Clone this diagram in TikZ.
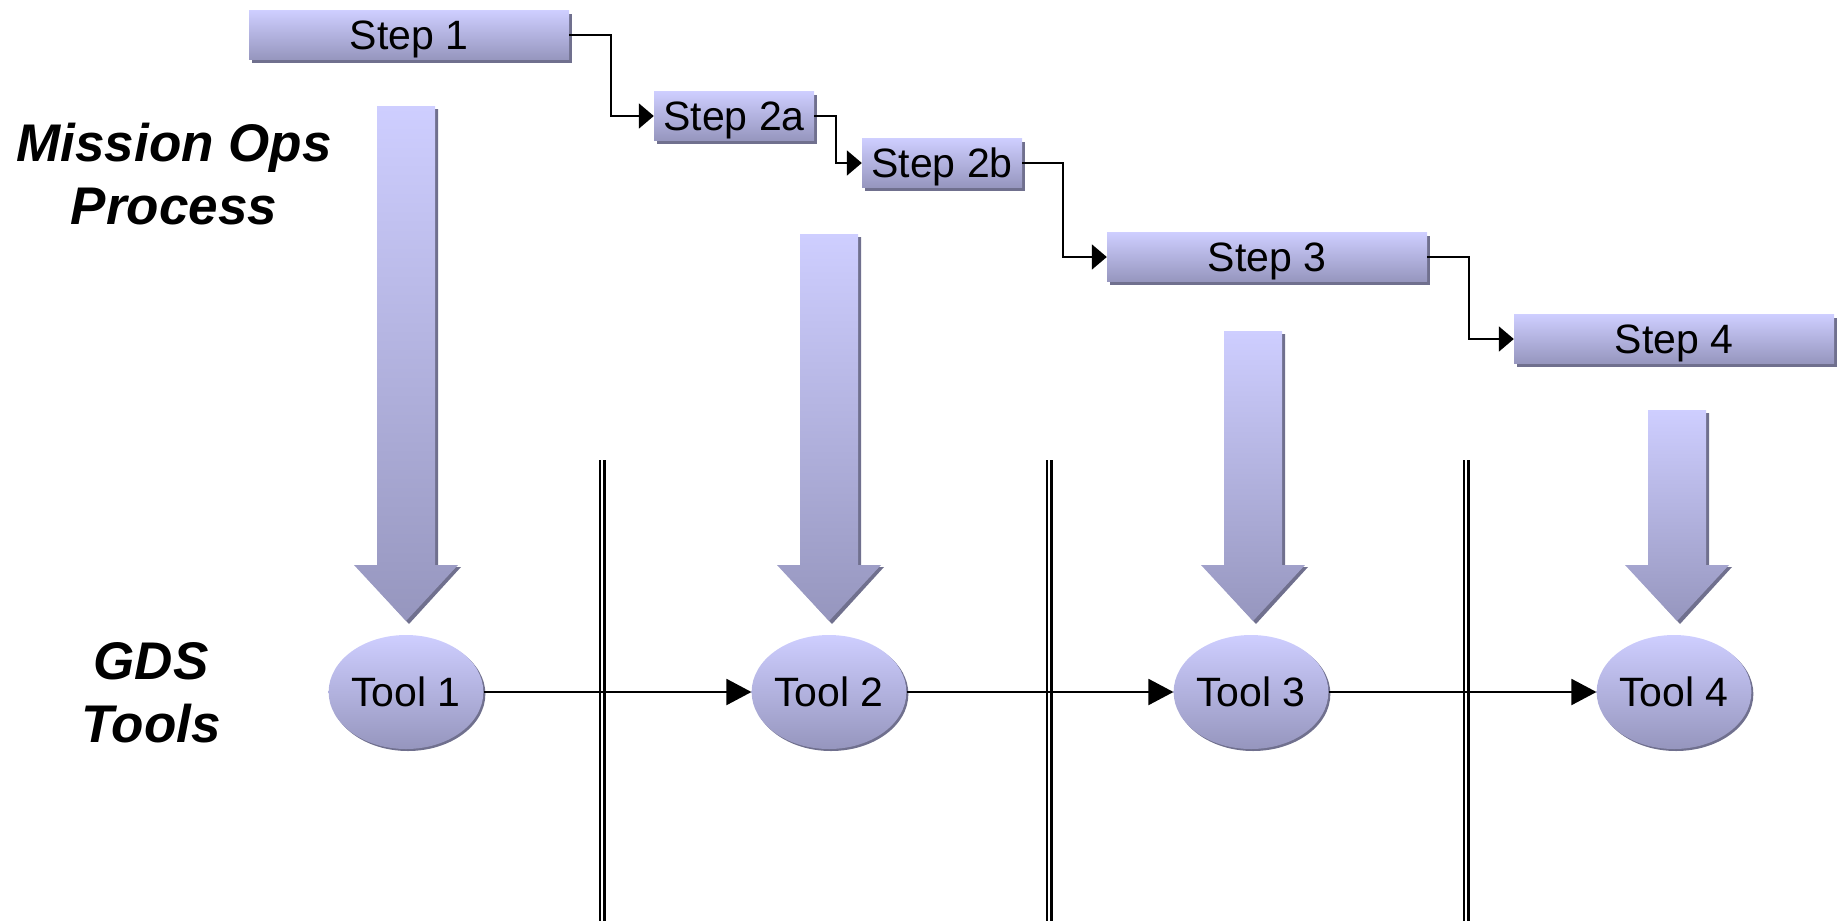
\documentclass[tikz,border=0pt]{standalone}
\usepackage{fontspec}
\setmainfont{Liberation Sans}
\usetikzlibrary{arrows.meta,shapes.geometric,shadows}
\definecolor{ltop}{RGB}{206,206,255}
\definecolor{lbot}{RGB}{150,150,190}
\definecolor{shd}{RGB}{112,112,142}
\tikzset{
  stepbox/.style={rectangle, inner sep=0pt, minimum height=49pt, text depth=0pt,
    top color=ltop, bottom color=lbot, draw=none,
    drop shadow={shadow xshift=3pt, shadow yshift=-3pt, fill=shd, opacity=1},
    font=\fontsize{41}{49}\selectfont},
  toolnode/.style={ellipse, inner sep=0pt, minimum width=154pt, minimum height=114pt, text depth=0pt,
    top color=ltop, bottom color=lbot, draw=none,
    drop shadow={shadow xshift=2pt, shadow yshift=-2pt, fill=shd, opacity=1},
    font=\fontsize{41}{49}\selectfont},
  sidelabel/.style={align=center, font=\fontsize{53}{63}\selectfont\bfseries\itshape},
  stepconn/.style={line width=2pt, -{Triangle[length=15pt,width=25pt]}},
  toolconn/.style={line width=2pt, -{Triangle[length=25pt,width=26pt]}},
  divider/.style={double=white, double distance=2.6pt, line width=2.2pt, draw=black},
}
\newcommand{\bigarrow}[2]{%
  \fill[shd] ({#1-29+3},{#2+3}) -- ({#1+29+3},{#2+3}) -- ({#1+29+3},567) -- ({#1+52+3},567) -- ({#1+3},624) -- ({#1-52+3},567) -- ({#1-29+3},567) -- cycle;
  \shade[top color=ltop, bottom color=lbot] ({#1-29},#2) -- ({#1+29},#2) -- ({#1+29},565) -- ({#1+52},565) -- (#1,621) -- ({#1-52},565) -- ({#1-29},565) -- cycle;
}
\begin{document}
\begin{tikzpicture}[x=1pt,y=-1pt]
\useasboundingbox (0,0) rectangle (1845,921);
% side labels
\node[sidelabel] (mop) at (174,174) {Mission Ops\\Process};
\node[sidelabel] (gds) at (151,693) {GDS\\Tools};
% big arrows
\bigarrow{406}{106}
\bigarrow{829}{234}
\bigarrow{1253}{331}
\bigarrow{1677}{410}
% steps
\node[stepbox, minimum width=320pt] (s1) at (409,35) {Step 1};
\node[stepbox, minimum width=160pt] (s2a) at (734,116) {Step 2a};
\node[stepbox, minimum width=160pt] (s2b) at (942,163) {Step 2b};
\node[stepbox, minimum width=320pt] (s3) at (1267,257) {Step 3};
\node[stepbox, minimum width=320pt] (s4) at (1674,339) {Step 4};
\draw[stepconn] (s1.east) -- ++(42,0) |- (s2a.west);
\draw[stepconn] (s2a.east) -- ++(22,0) |- (s2b.west);
\draw[stepconn] (s2b.east) -- ++(41,0) |- (s3.west);
\draw[stepconn] (s3.east) -- ++(42,0) |- (s4.west);
% dividers
\coordinate (d1t) at (602,460); \coordinate (d1b) at (602,925);
\coordinate (d2t) at (1049,460); \coordinate (d2b) at (1049,925);
\coordinate (d3t) at (1466,460); \coordinate (d3b) at (1466,925);
\draw[divider] (d1t) -- (d1b);
\draw[divider] (d2t) -- (d2b);
\draw[divider] (d3t) -- (d3b);
% tools
\node[toolnode] (t1) at (406,692) {Tool 1};
\node[toolnode] (t2) at (829,692) {Tool 2};
\node[toolnode] (t3) at (1251,692) {Tool 3};
\node[toolnode] (t4) at (1674,692) {Tool 4};
\draw[toolconn] (t1.east) -- (t2.west);
\draw[toolconn] (t2.east) -- (t3.west);
\draw[toolconn] (t3.east) -- (t4.west);
\end{tikzpicture}
\end{document}
